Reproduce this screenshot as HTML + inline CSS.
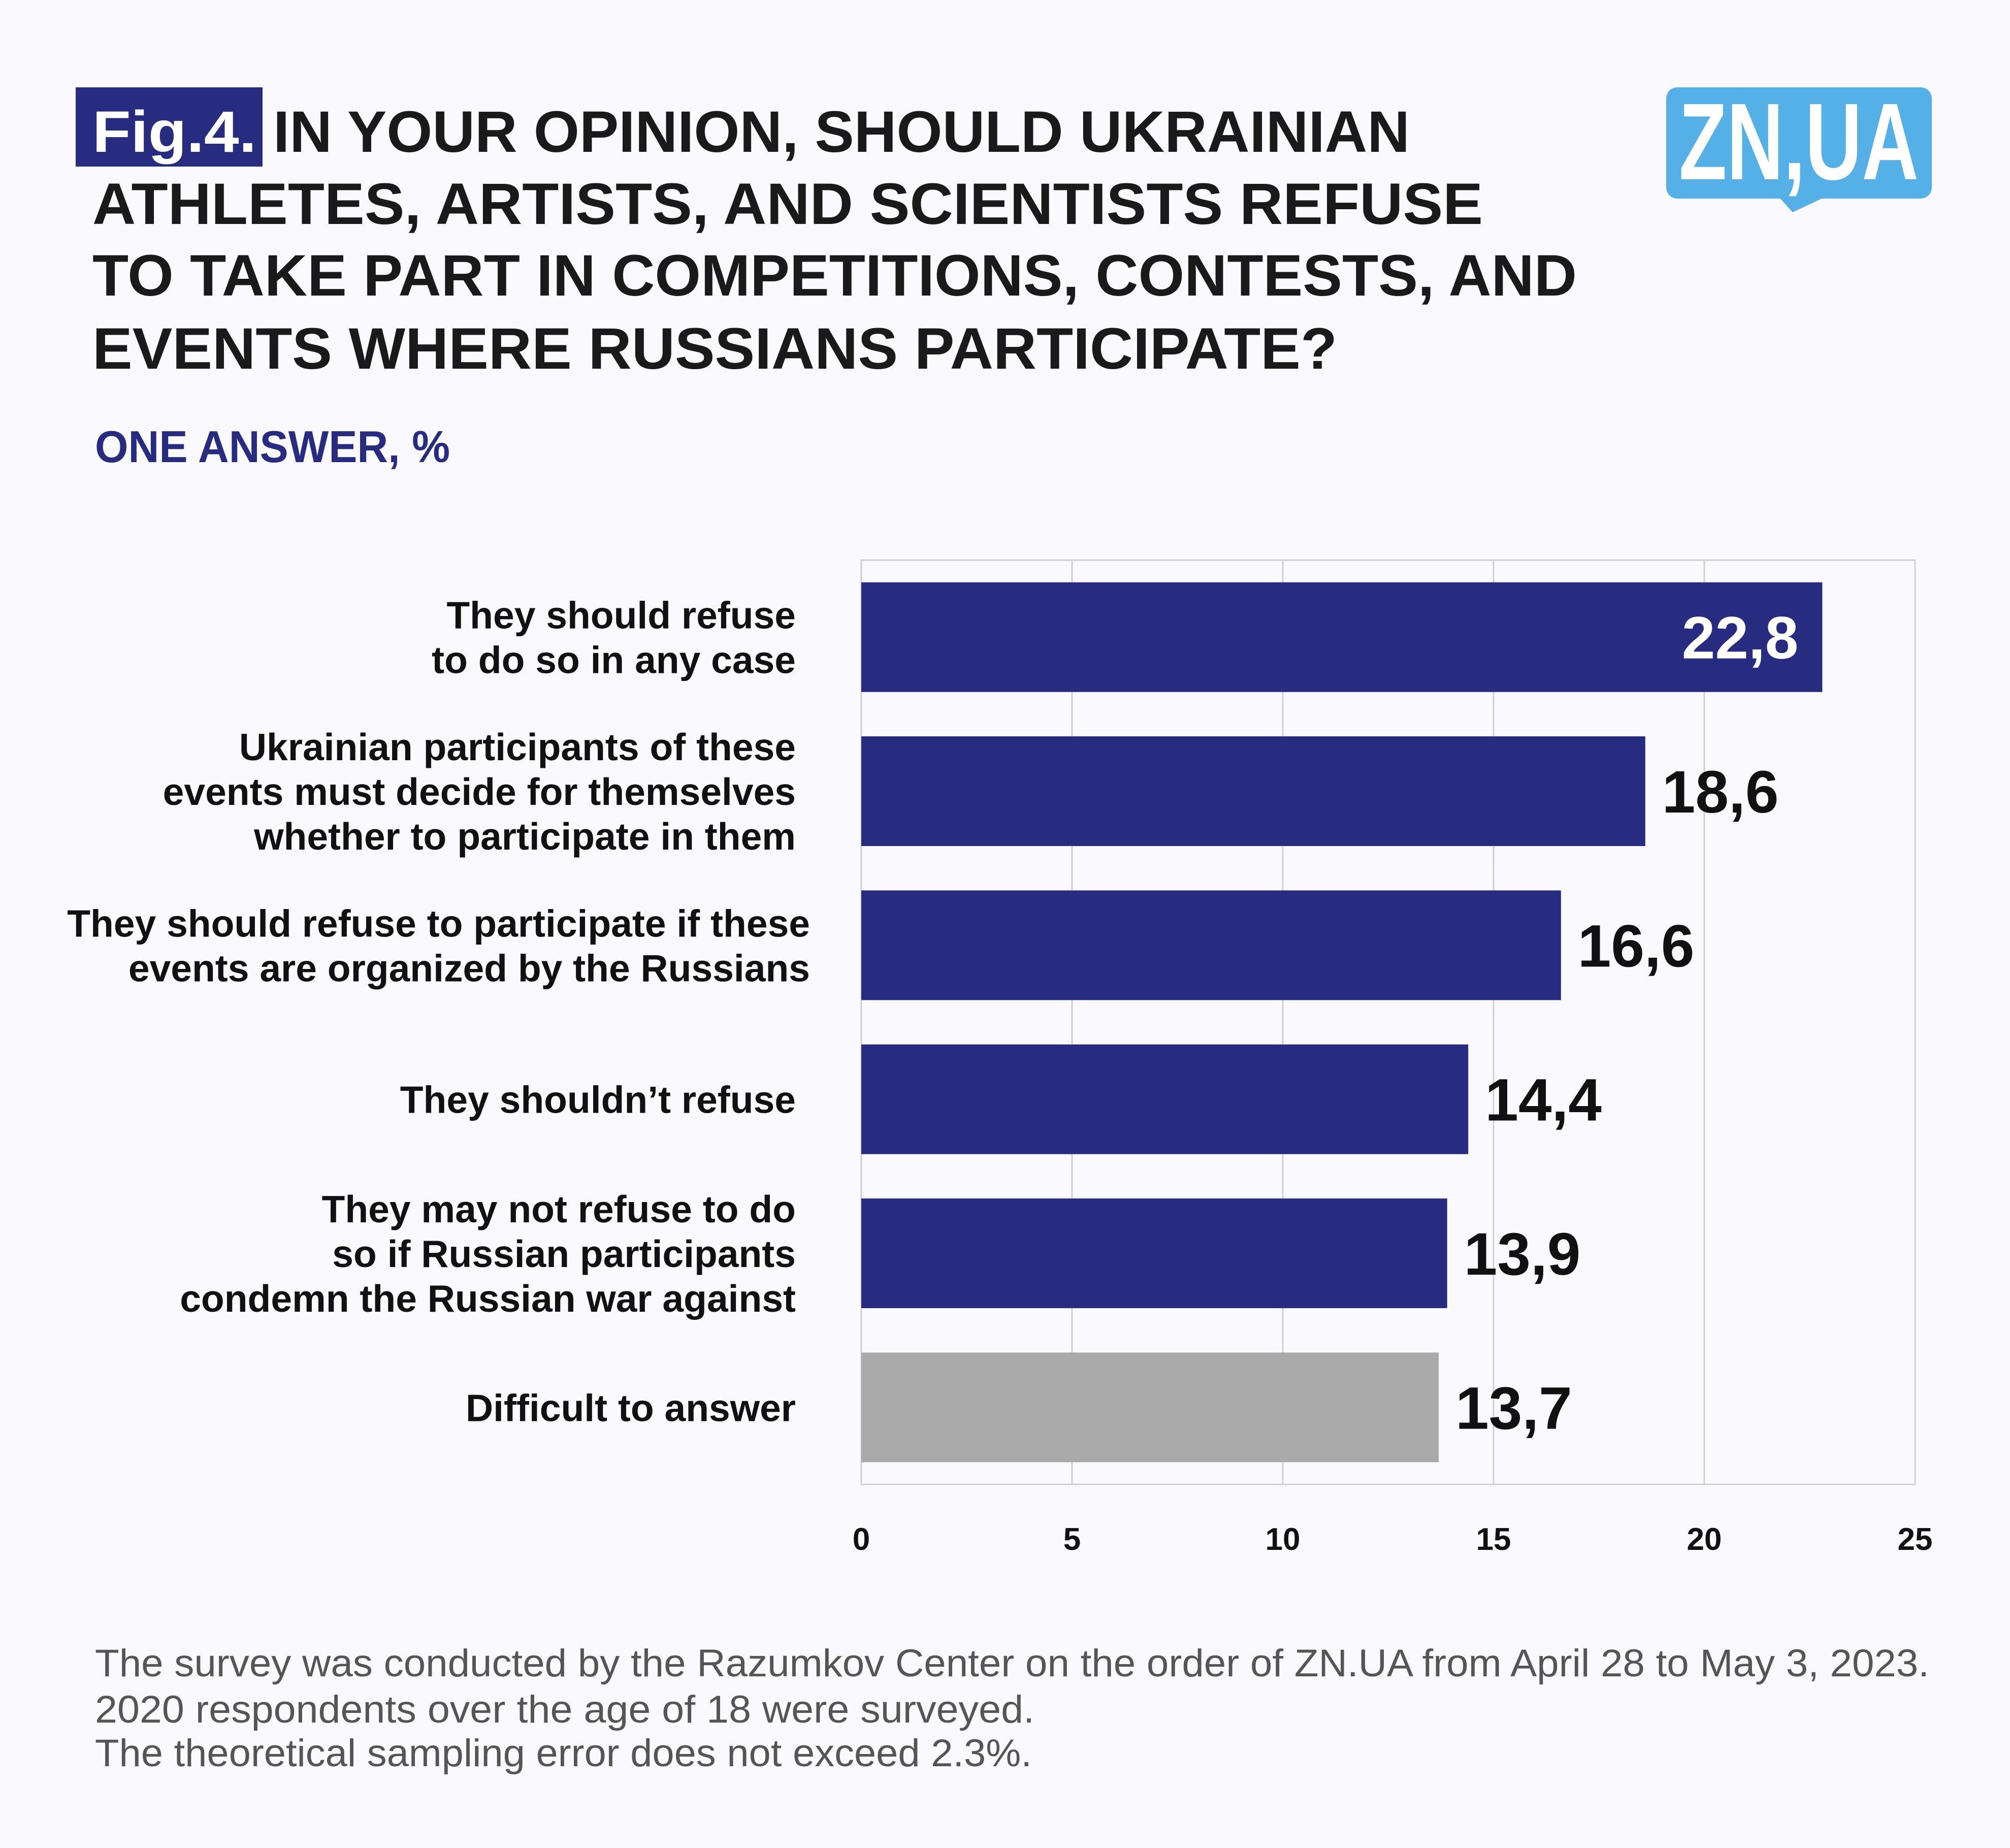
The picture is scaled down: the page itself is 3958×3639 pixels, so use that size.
<!DOCTYPE html>
<html><head><meta charset="utf-8"><style>
html,body{margin:0;padding:0;background:#f9f9fe;}
svg{display:block;font-family:"Liberation Sans",sans-serif;}
</style></head><body>
<svg id="chart" width="3958" height="3639" viewBox="0 0 3958 3639" xmlns="http://www.w3.org/2000/svg">
<rect x="0" y="0" width="3958" height="3639" fill="#f9f9fe"/>
<rect x="149" y="172" width="368" height="156" fill="#272c80"/>
<text x="182" y="299" font-size="115" font-weight="bold" fill="#fff" textLength="323" lengthAdjust="spacingAndGlyphs">Fig.4.</text>
<g font-size="115" font-weight="bold" fill="#1a1a1a">
<text x="538" y="299" textLength="2238" lengthAdjust="spacingAndGlyphs">IN YOUR OPINION, SHOULD UKRAINIAN</text>
<text x="182" y="441" textLength="2738" lengthAdjust="spacingAndGlyphs">ATHLETES, ARTISTS, AND SCIENTISTS REFUSE</text>
<text x="182" y="582" textLength="2923" lengthAdjust="spacingAndGlyphs">TO TAKE PART IN COMPETITIONS, CONTESTS, AND</text>
<text x="182" y="726" textLength="2451" lengthAdjust="spacingAndGlyphs">EVENTS WHERE RUSSIANS PARTICIPATE?</text>
</g>
<text x="187" y="910" font-size="88" font-weight="bold" fill="#272c80" textLength="699" lengthAdjust="spacingAndGlyphs">ONE ANSWER, %</text>
<g>
<rect x="3281" y="172" width="523" height="219" rx="22" fill="#55b0e8"/>
<path d="M3500 385 L3530 418 L3600 385 Z" fill="#55b0e8"/>
<text x="3306" y="353" font-size="215" font-weight="bold" fill="#fff" textLength="472" lengthAdjust="spacingAndGlyphs">ZN,UA</text>
</g>
<g id="grid"></g>
<g id="bars"></g>
<g id="labels"></g>
<g id="ticks"></g>
<g font-size="76" fill="#555">
<text x="187" y="3301" textLength="3612" lengthAdjust="spacingAndGlyphs">The survey was conducted by the Razumkov Center on the order of ZN.UA from April 28 to May 3, 2023.</text>
<text x="187" y="3392" textLength="1850" lengthAdjust="spacingAndGlyphs">2020 respondents over the age of 18 were surveyed.</text>
<text x="187" y="3478" textLength="1845" lengthAdjust="spacingAndGlyphs">The theoretical sampling error does not exceed 2.3%.</text>
</g>
</svg>
<script>
const categories = [
 ["They should refuse","to do so in any case"],
 ["Ukrainian participants of these","events must decide for themselves","whether to participate in them"],
 ["They should refuse to participate if these","events are organized by the Russians"],
 ["They shouldn’t refuse"],
 ["They may not refuse to do","so if Russian participants","condemn the Russian war against"],
 ["Difficult to answer"]
];
const values = [22.8, 18.6, 16.6, 14.4, 13.9, 13.7];
const valueLabels = ["22,8","18,6","16,6","14,4","13,9","13,7"];
const tickValues = [0,5,10,15,20,25];
const labelAnchorX = [1567,1567,1595,1567,1567,1567];

const NS="http://www.w3.org/2000/svg";
const X0=1696, X1=3771, Y0=1103, Y1=2923, XMAX=25;
const x = v => X0 + (v/XMAX)*(X1-X0);
const band = (Y1-Y0)/values.length;
const yc = i => Y0 + band*(i+0.5);
const barH = 216;
function mk(tag, attrs, parent){const e=document.createElementNS(NS,tag);for(const k in attrs)e.setAttribute(k,attrs[k]);parent.appendChild(e);return e;}
const grid=document.getElementById('grid'), bars=document.getElementById('bars'), labels=document.getElementById('labels'), ticks=document.getElementById('ticks');
mk('rect',{x:X0,y:Y0,width:X1-X0,height:Y1-Y0,fill:'none',stroke:'#cfcfd6','stroke-width':3},grid);
tickValues.forEach(t=>{
  const l=mk('line',{x1:x(t),x2:x(t),y1:Y0,y2:Y1,stroke:'#cfcfd6','stroke-width':3},grid);
  
  
  const tx=mk('text',{x:x(t),y:3052,'font-size':62,'font-weight':'bold','text-anchor':'middle',fill:'#111'},ticks);
  tx.textContent=t;
  
  
});
values.forEach((v,i)=>{
  const last=i===values.length-1;
  const r=mk('rect',{x:X0,y:yc(i)-barH/2,width:x(v)-X0,height:barH,fill:last?'#aaaaaa':'#272c80'},bars);
  
  
  const inside = v>20;
  const t=mk('text',{x:inside?x(v)-47:x(v)+33,y:yc(i)+42,'font-size':118,'font-weight':'bold','text-anchor':inside?'end':'start',fill:inside?'#fff':'#111'},bars);
  t.textContent=valueLabels[i];
  
  
  const lines=categories[i];
  const lh=88;
  const start=yc(i)-(lines.length-1)*lh/2;
  const tx=mk('text',{'font-size':75,'font-weight':'bold',fill:'#111','text-anchor':'end'},labels);
  
  
  lines.forEach((ln,j)=>{const s=mk('tspan',{x:labelAnchorX[i],y:start+j*lh+27},tx);s.textContent=ln;});
});
</script>
</body></html>
